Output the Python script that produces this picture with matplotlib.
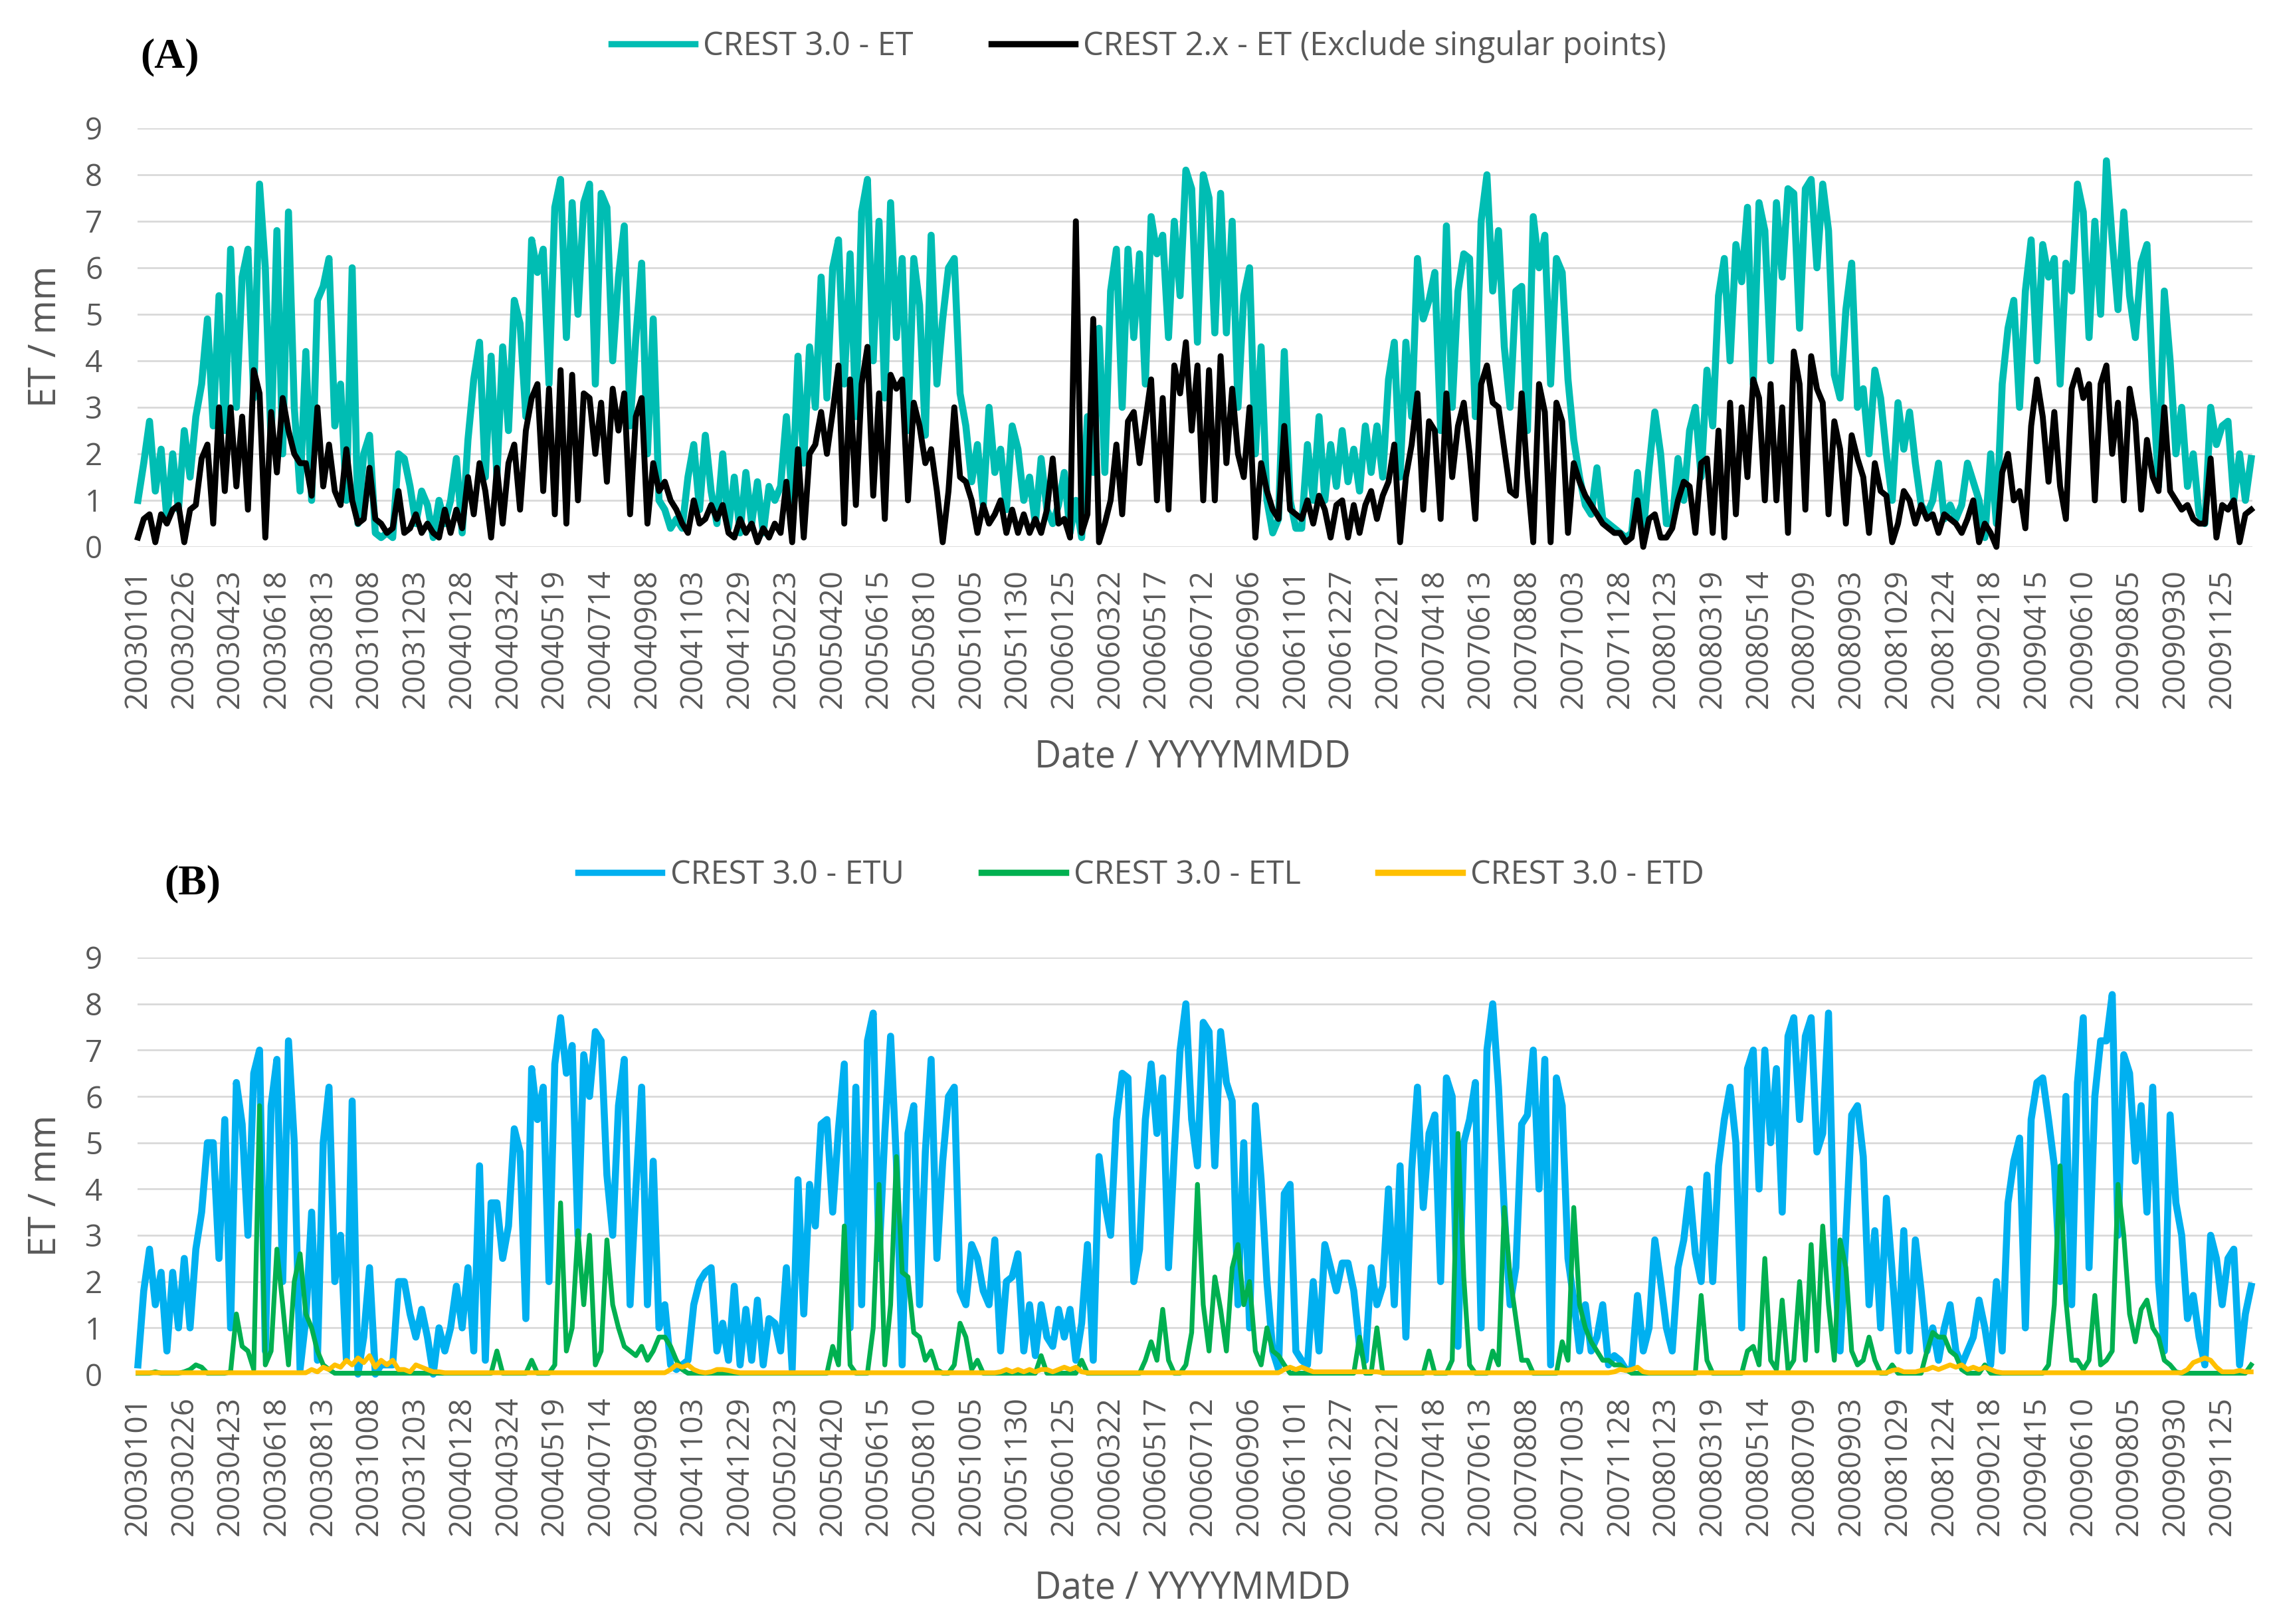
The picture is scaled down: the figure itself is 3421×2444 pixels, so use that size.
#%% CREST 3.0 vs CREST 2.x daily ET, 2003-2009
# The curves are read off the published figure, one value per week
# (highs and lows of the daily wiggle), so the texture is approximate.
import numpy as np
import pandas as pd
import matplotlib
matplotlib.use("Agg")
import matplotlib.pyplot as plt
from matplotlib.lines import Line2D

plt.rcParams['font.family'] = ['Open Sans', 'DejaVu Sans']

start = pd.Timestamp("2003-01-01")
end = pd.Timestamp("2009-12-31")
years = [2003, 2004, 2005, 2006, 2007, 2008, 2009]

#%% weekly readings [mm], one sub list per year

# CREST 3.0 - ET (panel A, teal)
et_30 = [
    [1.0, 1.8, 2.7, 1.2, 2.1, 0.6, 2.0, 0.8, 2.5, 1.5, 2.8, 3.5, 4.9, 2.6, 5.4, 2.5, 6.4, 3.0, 5.8, 6.4,
     3.2, 7.8, 6.0, 2.2, 6.8, 2.0, 7.2, 3.0, 1.2, 4.2, 1.0, 5.3, 5.6, 6.2, 2.6, 3.5, 1.0, 6.0, 0.5, 2.0,
     2.4, 0.3, 0.2, 0.3, 0.2, 2.0, 1.9, 1.3, 0.5, 1.2, 0.9, 0.2, 1.0],
    [0.5, 1.0, 1.9, 0.3, 2.3, 3.6, 4.4, 1.5, 4.1, 1.5, 4.3, 2.5, 5.3, 4.8, 2.8, 6.6, 5.9, 6.4, 3.5, 7.3,
     7.9, 4.5, 7.4, 5.0, 7.4, 7.8, 3.5, 7.6, 7.3, 4.0, 5.8, 6.9, 2.6, 4.5, 6.1, 2.0, 4.9, 1.0, 0.8, 0.4,
     0.6, 0.4, 1.5, 2.2, 0.8, 2.4, 1.2, 0.5, 2.0, 0.4, 1.5, 0.3],
    [1.6, 0.5, 1.4, 0.3, 1.3, 1.0, 1.3, 2.8, 1.0, 4.1, 1.8, 4.3, 3.0, 5.8, 3.2, 6.0, 6.6, 3.5, 6.3, 2.8,
     7.2, 7.9, 4.0, 7.0, 3.2, 7.4, 4.5, 6.2, 2.5, 6.2, 5.2, 2.4, 6.7, 3.5, 4.9, 6.0, 6.2, 3.3, 2.6, 1.4,
     2.2, 0.9, 3.0, 1.6, 2.1, 0.8, 2.6, 2.1, 1.0, 1.5, 0.5, 1.9],
    [0.8, 0.5, 0.9, 1.6, 0.3, 1.0, 0.2, 2.8, 1.6, 4.7, 1.6, 5.5, 6.4, 3.0, 6.4, 4.5, 6.3, 3.5, 7.1, 6.3,
     6.7, 4.5, 7.0, 5.4, 8.1, 7.7, 4.4, 8.0, 7.5, 4.6, 7.6, 4.6, 7.0, 3.0, 5.4, 6.0, 2.0, 4.3, 1.0, 0.3,
     0.6, 4.2, 1.0, 0.4, 0.4, 2.2, 1.0, 2.8, 1.0, 2.2, 1.3, 2.5],
    [1.4, 2.1, 1.2, 2.6, 1.6, 2.6, 1.5, 3.6, 4.4, 1.5, 4.4, 2.8, 6.2, 4.9, 5.3, 5.9, 2.5, 6.9, 3.0, 5.5,
     6.3, 6.2, 2.8, 7.0, 8.0, 5.5, 6.8, 4.3, 3.0, 5.5, 5.6, 2.5, 7.1, 6.0, 6.7, 3.5, 6.2, 5.9, 3.6, 2.3,
     1.5, 0.9, 0.7, 1.7, 0.6, 0.5, 0.4, 0.3, 0.2, 0.3, 1.6, 0.3],
    [1.7, 2.9, 2.0, 0.5, 0.5, 1.9, 1.0, 2.5, 3.0, 1.5, 3.8, 2.6, 5.4, 6.2, 4.0, 6.5, 5.7, 7.3, 3.5, 7.4,
     6.8, 4.0, 7.4, 5.8, 7.7, 7.6, 4.7, 7.7, 7.9, 6.0, 7.8, 6.8, 3.7, 3.2, 5.1, 6.1, 3.0, 3.4, 2.0, 3.8,
     3.2, 2.0, 1.0, 3.1, 2.1, 2.9, 1.8, 0.9, 0.7, 1.0, 1.8, 0.6, 0.9],
    [0.6, 0.9, 1.8, 1.4, 1.0, 0.2, 2.0, 0.5, 3.5, 4.7, 5.3, 3.0, 5.5, 6.6, 4.0, 6.5, 5.8, 6.2, 3.5, 6.1,
     5.5, 7.8, 7.2, 4.5, 7.0, 5.0, 8.3, 6.6, 5.1, 7.2, 5.4, 4.5, 6.1, 6.5, 3.5, 1.3, 5.5, 4.0, 2.0, 3.0,
     1.3, 2.0, 0.7, 0.5, 3.0, 2.2, 2.6, 2.7, 1.0, 2.0, 1.0, 1.9],
]

# CREST 2.x - ET, singular points excluded (panel A, black)
et_2x = [
    [0.2, 0.6, 0.7, 0.1, 0.7, 0.5, 0.8, 0.9, 0.1, 0.8, 0.9, 1.9, 2.2, 0.5, 3.0, 1.2, 3.0, 1.3, 2.8, 0.8,
     3.8, 3.3, 0.2, 2.9, 1.6, 3.2, 2.5, 2.0, 1.8, 1.8, 1.1, 3.0, 1.3, 2.2, 1.2, 0.9, 2.1, 1.0, 0.5, 0.6,
     1.7, 0.6, 0.5, 0.3, 0.4, 1.2, 0.3, 0.4, 0.7, 0.3, 0.5, 0.3, 0.2],
    [0.8, 0.3, 0.8, 0.4, 1.5, 0.7, 1.8, 1.2, 0.2, 1.7, 0.5, 1.8, 2.2, 0.8, 2.5, 3.2, 3.5, 1.2, 3.4, 0.7,
     3.8, 0.5, 3.7, 1.0, 3.3, 3.2, 2.0, 3.1, 1.4, 3.4, 2.5, 3.3, 0.7, 2.8, 3.2, 0.5, 1.8, 1.2, 1.4, 1.0,
     0.8, 0.5, 0.3, 1.0, 0.5, 0.6, 0.9, 0.6, 0.9, 0.3, 0.2, 0.6],
    [0.3, 0.5, 0.1, 0.4, 0.2, 0.5, 0.3, 1.4, 0.1, 2.1, 0.2, 2.0, 2.2, 2.9, 2.0, 2.9, 3.9, 0.5, 3.6, 0.9,
     3.5, 4.3, 1.1, 3.3, 0.6, 3.7, 3.4, 3.6, 1.0, 3.1, 2.6, 1.8, 2.1, 1.2, 0.1, 1.2, 3.0, 1.5, 1.4, 1.0,
     0.3, 0.9, 0.5, 0.7, 1.0, 0.3, 0.8, 0.3, 0.7, 0.3, 0.6, 0.3],
    [0.8, 1.9, 0.5, 0.6, 0.2, 7.0, 0.3, 0.7, 4.9, 0.1, 0.5, 1.0, 2.2, 0.7, 2.7, 2.9, 1.8, 2.7, 3.6, 1.0,
     3.2, 0.8, 3.9, 3.3, 4.4, 2.5, 3.9, 1.0, 3.8, 1.0, 4.1, 1.8, 3.4, 2.0, 1.5, 3.0, 0.2, 1.8, 1.2, 0.8,
     0.6, 2.6, 0.8, 0.7, 0.6, 1.0, 0.5, 1.1, 0.8, 0.2, 0.9, 1.0],
    [0.2, 0.9, 0.3, 0.9, 1.2, 0.6, 1.1, 1.4, 2.2, 0.1, 1.5, 2.2, 3.3, 0.8, 2.7, 2.5, 0.6, 3.3, 1.5, 2.6,
     3.1, 2.0, 0.6, 3.5, 3.9, 3.1, 3.0, 2.1, 1.2, 1.1, 3.3, 1.5, 0.1, 3.5, 2.9, 0.1, 3.1, 2.7, 0.3, 1.8,
     1.4, 1.1, 0.9, 0.7, 0.5, 0.4, 0.3, 0.3, 0.1, 0.2, 1.0, 0.0],
    [0.6, 0.7, 0.2, 0.2, 0.4, 1.0, 1.4, 1.3, 0.3, 1.8, 1.9, 0.3, 2.5, 0.2, 3.1, 0.7, 3.0, 1.5, 3.6, 3.2,
     1.0, 3.5, 1.0, 3.0, 0.3, 4.2, 3.5, 0.8, 4.1, 3.4, 3.1, 0.7, 2.7, 2.1, 0.5, 2.4, 1.9, 1.5, 0.3, 1.8,
     1.2, 1.1, 0.1, 0.5, 1.2, 1.0, 0.5, 0.9, 0.6, 0.7, 0.3, 0.7, 0.6],
    [0.5, 0.3, 0.6, 1.0, 0.1, 0.5, 0.3, 0.0, 1.6, 2.0, 1.0, 1.2, 0.4, 2.6, 3.6, 2.8, 1.4, 2.9, 1.3, 0.6,
     3.4, 3.8, 3.2, 3.5, 1.0, 3.5, 3.9, 2.0, 3.1, 1.0, 3.4, 2.7, 0.8, 2.3, 1.5, 1.2, 3.0, 1.2, 1.0, 0.8,
     0.9, 0.6, 0.5, 0.5, 1.9, 0.2, 0.9, 0.8, 1.0, 0.1, 0.7, 0.8],
]

# CREST 3.0 - ETU (panel B, blue)
etu = [
    [0.2, 1.8, 2.7, 1.5, 2.2, 0.5, 2.2, 1.0, 2.5, 1.0, 2.7, 3.5, 5.0, 5.0, 2.5, 5.5, 1.0, 6.3, 5.4, 3.0,
     6.5, 7.0, 0.5, 5.8, 6.8, 2.0, 7.2, 5.0, 0.1, 1.2, 3.5, 0.3, 5.0, 6.2, 2.0, 3.0, 0.3, 5.9, 0.0, 0.8,
     2.3, 0.0, 0.2, 0.2, 0.2, 2.0, 2.0, 1.3, 0.8, 1.4, 0.8, 0.0, 1.0],
    [0.5, 1.0, 1.9, 1.0, 2.3, 0.5, 4.5, 0.3, 3.7, 3.7, 2.5, 3.2, 5.3, 4.8, 1.2, 6.6, 5.5, 6.2, 2.0, 6.7,
     7.7, 6.5, 7.1, 3.0, 6.9, 6.0, 7.4, 7.2, 4.3, 3.0, 5.8, 6.8, 1.5, 4.0, 6.2, 1.5, 4.6, 1.0, 1.5, 0.2,
     0.1, 0.2, 0.3, 1.5, 2.0, 2.2, 2.3, 0.5, 1.1, 0.3, 1.9, 0.2],
    [1.4, 0.3, 1.6, 0.2, 1.2, 1.1, 0.5, 2.3, 0.1, 4.2, 1.3, 4.1, 3.2, 5.4, 5.5, 3.5, 5.3, 6.7, 1.0, 6.2,
     1.5, 7.2, 7.8, 2.5, 5.2, 7.3, 4.6, 0.2, 5.2, 5.8, 1.5, 4.8, 6.8, 2.5, 4.6, 6.0, 6.2, 1.8, 1.5, 2.8,
     2.5, 1.8, 1.5, 2.9, 0.5, 2.0, 2.1, 2.6, 0.5, 1.5, 0.4, 1.5],
    [0.8, 0.6, 1.4, 0.8, 1.4, 0.3, 1.1, 2.8, 0.3, 4.7, 3.7, 3.0, 5.5, 6.5, 6.4, 2.0, 2.7, 5.5, 6.7, 5.2,
     6.4, 2.3, 4.8, 7.0, 8.0, 5.5, 4.5, 7.6, 7.4, 4.5, 7.4, 6.3, 5.9, 1.5, 5.0, 1.0, 5.8, 4.2, 2.0, 0.5,
     0.1, 3.9, 4.1, 0.5, 0.3, 0.2, 2.0, 0.5, 2.8, 2.3, 1.8, 2.4],
    [2.4, 1.8, 0.6, 0.3, 2.3, 1.5, 1.9, 4.0, 1.5, 4.5, 0.8, 4.4, 6.2, 3.6, 5.2, 5.6, 2.0, 6.4, 6.0, 0.6,
     5.0, 5.5, 6.3, 1.0, 7.0, 8.0, 6.2, 3.5, 1.5, 2.3, 5.4, 5.6, 7.0, 4.0, 6.8, 0.2, 6.4, 5.8, 2.5, 1.6,
     0.5, 1.5, 0.5, 0.8, 1.5, 0.2, 0.4, 0.3, 0.1, 0.1, 1.7, 0.5],
    [1.0, 2.9, 2.0, 1.0, 0.5, 2.3, 2.9, 4.0, 2.6, 2.0, 4.3, 2.0, 4.5, 5.5, 6.2, 5.0, 1.0, 6.6, 7.0, 4.0,
     7.0, 5.0, 6.6, 3.5, 7.3, 7.7, 5.5, 7.3, 7.7, 4.8, 5.2, 7.8, 2.5, 0.5, 3.0, 5.6, 5.8, 4.7, 1.5, 3.1,
     1.0, 3.8, 2.2, 0.5, 3.1, 0.5, 2.9, 1.8, 0.5, 1.0, 0.3, 1.0, 1.5],
    [0.5, 0.2, 0.5, 0.8, 1.6, 1.0, 0.2, 2.0, 0.5, 3.7, 4.6, 5.1, 1.0, 5.5, 6.3, 6.4, 5.5, 4.5, 2.0, 6.0,
     1.5, 6.3, 7.7, 2.3, 6.0, 7.2, 7.2, 8.2, 3.0, 6.9, 6.5, 4.6, 5.8, 3.5, 6.2, 2.0, 0.5, 5.6, 3.7, 3.0,
     1.2, 1.7, 0.8, 0.2, 3.0, 2.5, 1.5, 2.5, 2.7, 0.2, 1.3, 1.9],
]

# CREST 3.0 - ETL (panel B, green)
etl = [
    [0.02, 0.02, 0.02, 0.05, 0.02, 0.02, 0.02, 0.02, 0.05, 0.1, 0.2, 0.15, 0.02, 0.02, 0.02, 0.02, 0.05,
     1.3, 0.6, 0.5, 0.1, 5.8, 0.2, 0.5, 2.7, 1.5, 0.2, 2.0, 2.6, 1.3, 1.0, 0.5, 0.2, 0.1]
    + [0.02] * 19,
    [0.02] * 9
    + [0.5, 0.02, 0.02, 0.02, 0.02, 0.02, 0.3, 0.02, 0.02, 0.02, 0.2, 3.7, 0.5, 1.0, 3.1, 1.5, 3.0, 0.2,
       0.5, 2.9, 1.5, 1.0, 0.6, 0.5, 0.4, 0.6, 0.3, 0.5, 0.8, 0.8, 0.6, 0.3, 0.1]
    + [0.02] * 10,
    [0.02] * 15
    + [0.6, 0.2, 3.2, 0.2, 0.02, 0.02, 0.02, 1.0, 4.1, 0.2, 1.5, 4.7, 2.2, 2.1, 0.9, 0.8, 0.3, 0.5, 0.1,
       0.02, 0.02, 0.2, 1.1, 0.8, 0.1, 0.3]
    + [0.02] * 10 + [0.4],
    [0.02] * 6 + [0.3] + [0.02] * 10
    + [0.3, 0.7, 0.3, 1.4, 0.3, 0.02, 0.02, 0.2, 0.9, 4.1, 1.5, 0.5, 2.1, 1.4, 0.5, 2.3, 2.8, 1.5, 2.0,
       0.5, 0.2, 1.0, 0.5, 0.4, 0.2]
    + [0.02] * 10,
    [0.02, 0.02, 0.8, 0.02, 0.02, 1.0] + [0.02] * 8
    + [0.5, 0.02, 0.02, 0.02, 0.3, 5.2, 2.1, 0.2, 0.02, 0.02, 0.02, 0.5, 0.2, 3.6, 2.1, 1.2, 0.3, 0.3]
    + [0.02] * 5
    + [0.7, 0.3, 3.6, 1.5, 1.0, 0.7, 0.5, 0.3, 0.3, 0.2, 0.2, 0.1]
    + [0.02] * 3,
    [0.02] * 9 + [1.7, 0.3] + [0.02] * 6
    + [0.5, 0.6, 0.2, 2.5, 0.3, 0.1, 1.6, 0.1, 0.3, 2.0, 0.3, 2.8, 0.5, 3.2, 1.5, 0.3, 2.9, 2.3, 0.5,
       0.2, 0.3, 0.8, 0.3]
    + [0.02, 0.02, 0.2, 0.02, 0.02, 0.02, 0.02, 0.02, 0.5, 0.9, 0.8, 0.8, 0.5],
    [0.4, 0.1, 0.02, 0.02, 0.02, 0.2] + [0.02] * 10
    + [0.2, 1.5, 4.5, 1.6, 0.3, 0.3, 0.1, 0.3, 1.7, 0.2, 0.3, 0.5, 4.1, 3.0, 1.3, 0.7, 1.4, 1.6, 1.0,
       0.8, 0.3, 0.2, 0.05]
    + [0.02] * 12 + [0.2],
]

# CREST 3.0 - ETD (panel B, yellow)
etd = [
    [0.03] * 30
    + [0.1, 0.05, 0.15, 0.1, 0.2, 0.15, 0.3, 0.2, 0.35, 0.25, 0.4, 0.15, 0.3, 0.2, 0.3, 0.1, 0.1, 0.05,
       0.2, 0.15, 0.1, 0.05, 0.05],
    [0.03] * 39 + [0.1, 0.2, 0.15, 0.2, 0.1, 0.05, 0.03, 0.05, 0.1, 0.1, 0.08, 0.05, 0.03],
    [0.03] * 44 + [0.05, 0.1, 0.05, 0.1, 0.05, 0.1, 0.05, 0.1],
    [0.1, 0.05, 0.1, 0.15, 0.1, 0.15, 0.05] + [0.03] * 34 + [0.1, 0.15, 0.1, 0.15, 0.1, 0.05] + [0.05] * 5,
    [0.05] * 6 + [0.03] * 40 + [0.05, 0.1, 0.08, 0.1, 0.15, 0.05],
    [0.03] * 42 + [0.08, 0.1, 0.05, 0.05, 0.05, 0.08, 0.1, 0.15, 0.1, 0.15, 0.2],
    [0.15, 0.2, 0.1, 0.15, 0.1, 0.15, 0.1, 0.05] + [0.03] * 32
    + [0.1, 0.25, 0.3, 0.35, 0.3, 0.15, 0.05, 0.05, 0.05, 0.08, 0.05, 0.05],
]

#%% x axis: one category per day, Excel puts a label on every 56th day
n_days = (end - start).days + 1
tick_days = np.arange(0, n_days, 56)
tick_labels = [(start + pd.Timedelta(days=int(d))).strftime("%Y%m%d") for d in tick_days]


def week_days(year, n):
    # first weekly sample day (counted from 2003-01-01) inside this year
    jan1 = (pd.Timestamp(f"{year}-01-01") - start).days
    first = -(-jan1 // 7) * 7
    return first + 7 * np.arange(n)


def series(yearly):
    x = np.concatenate([week_days(y, len(v)) for y, v in zip(years, yearly)])
    return x, np.concatenate([np.asarray(v, float) for v in yearly])


#%% figure
grey = '#595959'
W, H = 3421, 2444
fig = plt.figure(figsize=(W / 200, H / 200), dpi=200)
axA = fig.add_axes([207 / W, 1 - 823 / H, 3183 / W, 630 / H])
axB = fig.add_axes([207 / W, 1 - 2068 / H, 3183 / W, 627 / H])

for ax in (axA, axB):
    ax.set_xlim(-0.5, n_days - 0.5)
    ax.set_ylim(0, 9)
    ax.set_yticks(range(10))
    ax.set_xticks(tick_days)
    ax.set_xticklabels(tick_labels, rotation=90)
    ax.yaxis.grid(True, color='#d9d9d9', lw=1.0)
    ax.set_axisbelow(True)
    for s in ax.spines.values():
        s.set_visible(False)
    ax.tick_params(axis='both', length=0, labelsize=16.5, labelcolor=grey)
    ax.tick_params(axis='y', pad=19)
    ax.tick_params(axis='x', pad=12)

# panel A
x, y = series(et_30)
axA.plot(x, y, color='#00bdb3', lw=3.8, clip_on=False, solid_joinstyle='round')
x, y = series(et_2x)
axA.plot(x, y, color='black', lw=3.2, clip_on=False, solid_joinstyle='round')

hA = [Line2D([], [], color='#00bdb3', lw=3.4), Line2D([], [], color='black', lw=3.4)]
fig.legend(hA, ['CREST 3.0 - ET', 'CREST 2.x - ET (Exclude singular points)'],
           loc='center', bbox_to_anchor=(0.501, 1 - 70 / H), ncol=2, frameon=False,
           fontsize=17.5, labelcolor=grey, handlelength=2.6, handletextpad=0.25,
           columnspacing=2.4)

# panel B
x, y = series(etu)
axB.plot(x, y, color='#00b0f0', lw=3.8, clip_on=False, solid_joinstyle='round')
x, y = series(etl)
axB.plot(x, y, color='#00b050', lw=2.6, clip_on=False, solid_joinstyle='round')
x, y = series(etd)
axB.plot(x, y, color='#ffc000', lw=2.6, clip_on=False, solid_joinstyle='round')

hB = [Line2D([], [], color=c, lw=3.4) for c in ('#00b0f0', '#00b050', '#ffc000')]
fig.legend(hB, ['CREST 3.0 - ETU', 'CREST 3.0 - ETL', 'CREST 3.0 - ETD'],
           loc='center', bbox_to_anchor=(0.502, 1 - 1317 / H), ncol=3, frameon=False,
           fontsize=17.5, labelcolor=grey, handlelength=2.6, handletextpad=0.25,
           columnspacing=2.4)

# panel tags and axis titles
fig.text(256 / W, 1 - 86 / H, '(A)', family='Liberation Serif', weight='bold',
         fontsize=23, ha='center', va='center')
fig.text(290 / W, 1 - 1330 / H, '(B)', family='Liberation Serif', weight='bold',
         fontsize=23, ha='center', va='center')
for yc in (506, 1784):
    fig.text(70 / W, 1 - yc / H, 'ET / mm', rotation=90, fontsize=20, color=grey,
             ha='center', va='center')
for yc in (1140, 2391):
    fig.text(1795 / W, 1 - yc / H, 'Date / YYYYMMDD', fontsize=20, color=grey,
             ha='center', va='center')

fig.savefig('out.png', dpi=200)
